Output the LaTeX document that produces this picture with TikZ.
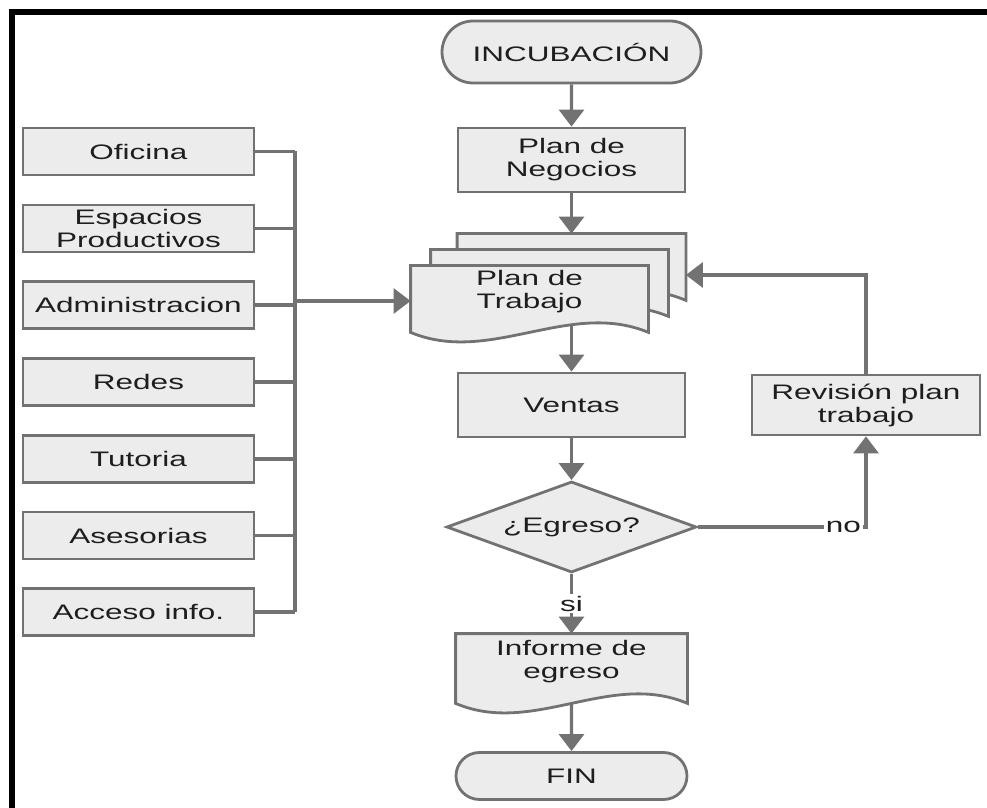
\documentclass[tikz,border=0pt]{standalone}
\usepackage{fontspec}
\setmainfont{Liberation Sans}[FakeStretch=1.5]
\usetikzlibrary{shapes.geometric,shapes.misc,arrows.meta,calc}
\pgfdeclarelayer{hojas}
\pgfsetlayers{hojas,main}

\begin{document}
\begin{tikzpicture}[x=0.5pt,y=-0.5pt,
  caja/.style={rectangle, draw=gris, fill=relleno, line width=1.4pt, text=texto,
    align=center, inner sep=0pt, font=\fontsize{10.5}{11.5}\selectfont},
  izq/.style={caja, minimum width=115.5pt, minimum height=23.5pt},
  paso/.style={caja, minimum width=113.5pt, minimum height=32pt},
  term/.style={caja, rounded rectangle},
  decision/.style={caja, diamond, shape aspect=2.75, minimum width=125pt, minimum height=45.5pt},
  hojatxt/.style={caja, draw=none, fill=none},
  forma/.style={draw=gris, fill=relleno, line width=1.4pt},
  linea/.style={draw=gris, line width=1.6pt},
  flecha/.style={linea, -{Triangle[length=8.5pt,width=12.5pt]}},
  etiq/.style={fill=white, text=texto, inner sep=1pt, font=\fontsize{10.5}{11.5}\selectfont}]

  % --- Colores ---
  \definecolor{gris}{HTML}{727272}    % Lineas y bordes
  \definecolor{relleno}{HTML}{ECECEC} % Relleno de las cajas
  \definecolor{texto}{HTML}{1E1E1E}   % Texto

  % --- Hoja con borde ondulado: \hoja{nodo} ---
  \newcommand{\hoja}[1]{%
    \filldraw[forma] let \p1=(#1.north west), \p2=(#1.south east) in
      (\p1) -- (\x2,\y1) -- (\x2,{\y2-7pt})
      .. controls ({\x1+2*(\x2-\x1)/3},{\y2+9.5pt}) and ({\x1+(\x2-\x1)/3},{\y2-23.5pt}) .. (\x1,{\y2-7pt}) -- cycle;
  }

  \useasboundingbox (0,0) rectangle (987,808);

  % --- Marco ---
  \fill[black] (9,9) rectangle (987,15);
  \fill[black] (9,9) rectangle (15,808);

  % --- Columna central ---
  \node[term, minimum width=129.5pt, minimum height=31pt] (incub) at (571.5,52) {INCUBACIÓN};
  \node[paso] (neg) at (571.5,160) {Plan de\\Negocios};
  \node[hojatxt, minimum width=113pt, minimum height=25pt] (trab3) at (571.5,260) {};
  \node[hojatxt, minimum width=117.5pt, minimum height=25pt] (trab2) at (549.5,276) {};
  \node[hojatxt, minimum width=117.5pt, minimum height=25pt] (trab) at (529.5,292) {Plan de\\Trabajo};
  \node[paso] (ventas) at (571.5,405) {Ventas};
  \node[decision] (egreso) at (571.5,527) {¿Egreso?};
  \node[hojatxt, minimum width=114.5pt, minimum height=26.5pt] (inf) at (571.5,661.5) {Informe de\\egreso};
  \node[term, minimum width=115.5pt, minimum height=23.5pt] (fin) at (571.5,776) {FIN};

  % --- Revision ---
  \node[caja, minimum width=114pt, minimum height=30pt] (revision) at (866,405) {Revisión plan\\trabajo};

  % --- Recursos (izquierda) ---
  \node[izq] (ofi) at (138.5,151.5) {Oficina};
  \node[izq] (esp) at (138.5,228.5) {Espacios\\Productivos};
  \node[izq] (adm) at (138.5,305) {Administracion};
  \node[izq] (red) at (138.5,382) {Redes};
  \node[izq] (tut) at (138.5,459) {Tutoria};
  \node[izq] (ase) at (138.5,535.5) {Asesorias};
  \node[izq] (acc) at (138.5,612) {Acceso info.};

  % --- Hojas (detras del texto) ---
  \begin{pgfonlayer}{hojas}
    \hoja{trab3}
    \hoja{trab2}
    \hoja{trab}
    \hoja{inf}
  \end{pgfonlayer}

  % --- Conectores ---
  \draw[flecha] (incub) -- (neg);
  \draw[flecha] (neg) -- (trab3);
  \draw[flecha] ($(ventas.north |- trab.south)+(0,6)$) -- (ventas);
  \draw[flecha] (ventas) -- (egreso);
  \draw[flecha] (egreso) -- node[etiq] {si} (inf);
  \draw[flecha] ($(inf.south)+(0,14)$) -- (fin);
  \draw[flecha] (egreso.east) -| node[etiq, pos=0.5, anchor=east, xshift=-0.75pt] {no} (revision.south);
  \draw[flecha] (revision.north) |- ($(trab3.east)+(0,15)$);

  % --- Barra de recursos ---
  \coordinate (bus) at (295,301);
  \draw[linea] (ofi.east) -- (ofi.east -| bus);
  \draw[linea] (esp.east) -- (esp.east -| bus);
  \draw[linea] (adm.east) -- (adm.east -| bus);
  \draw[linea] (red.east) -- (red.east -| bus);
  \draw[linea] (tut.east) -- (tut.east -| bus);
  \draw[linea] (ase.east) -- (ase.east -| bus);
  \draw[linea] (acc.east) -- (acc.east -| bus);
  \draw[linea] (ofi.east -| bus) -- (acc.east -| bus);
  \draw[flecha] (bus) -- (bus -| trab.west);

\end{tikzpicture}
\end{document}
